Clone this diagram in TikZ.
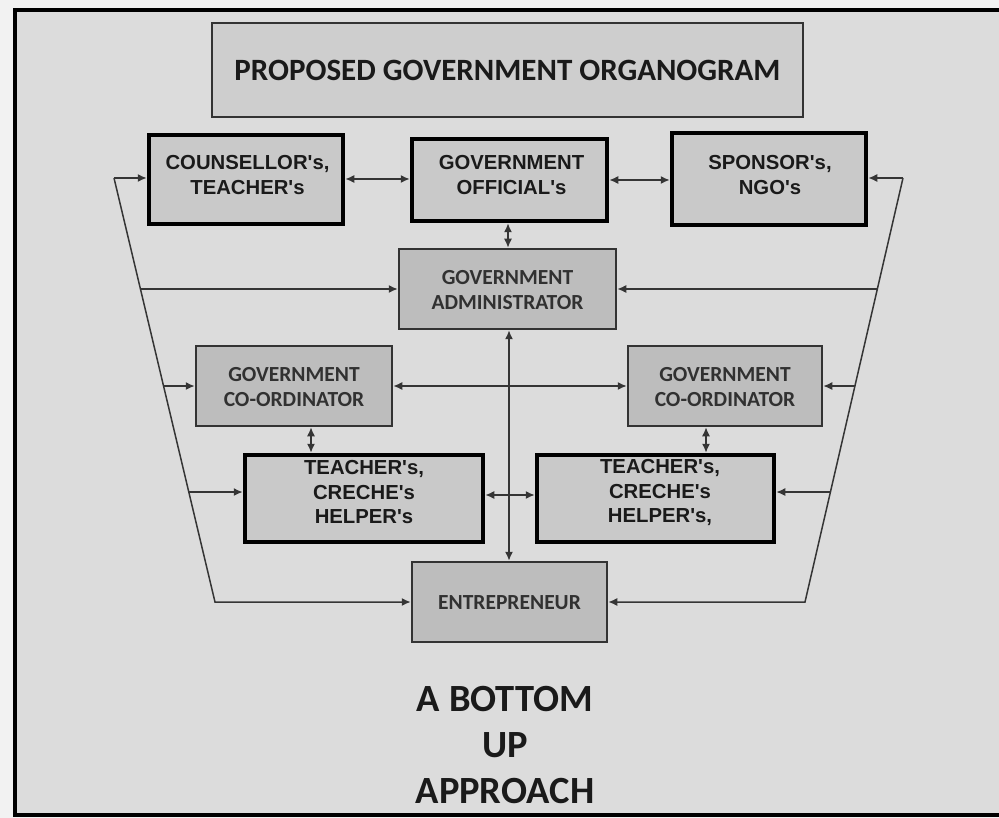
\documentclass[tikz,border=0pt]{standalone}
\usepackage{fontspec}
\newfontfamily\arialf{Liberation Sans}
\newfontfamily\calf{Carlito}
\usetikzlibrary{arrows.meta,calc}
\definecolor{outbg}{HTML}{F2F2F2}
\definecolor{bg}{HTML}{DCDCDC}
\definecolor{boxA}{HTML}{C9C9C9}
\definecolor{boxB}{HTML}{BDBDBD}
\definecolor{boxT}{HTML}{CECECE}
\definecolor{edge}{HTML}{333333}
\definecolor{lineclr}{HTML}{353535}
\definecolor{txt}{HTML}{1A1A1A}
\tikzset{
  thickbox/.style={draw=black, line width=4.5pt, fill=boxA, inner sep=0pt},
  thinbox/.style={draw=edge, line width=2.5pt, fill=boxB, inner sep=0pt},
  titlebox/.style={draw=edge, line width=2.5pt, fill=boxT, inner sep=0pt, text=txt,
    font=\calf\bfseries\fontsize{31}{36}\selectfont},
  arialtxt/.style={font=\arialf\bfseries\fontsize{20.3}{24.5}\selectfont, align=center, text=txt, inner sep=0pt},
  caltxt/.style={font=\calf\bfseries\fontsize{21.5}{24.5}\selectfont, align=center, text=txt!90!white, inner sep=0pt},
  bigtxt/.style={font=\calf\bfseries\fontsize{38.5}{46}\selectfont, align=center, text=txt, inner sep=0pt},
  link/.style={draw=lineclr, line width=1.5pt},
  both/.style={link, {Latex[length=9pt,width=8pt]}-{Latex[length=9pt,width=8pt]}},
  oneway/.style={link, -{Latex[length=9pt,width=8pt]}},
}
\begin{document}
\begin{tikzpicture}[x=1pt,y=-1pt]
\useasboundingbox (0,0) rectangle (999,818);
\fill[outbg] (0,0) rectangle (999,818);
\fill[bg] (15,10) rectangle (1020,815);
\draw[line width=4.5pt, line join=miter] (1020,10) -- (15,10) -- (15,815) -- (1020,815);

% title
\node[titlebox, minimum width=591pt, minimum height=94pt] (title) at (507.5,70) {PROPOSED GOVERNMENT ORGANOGRAM};

% top row
\node[thickbox, minimum width=194pt, minimum height=89pt] (couns) at (246,179.5) {};
\node[arialtxt] (counst) at (247.5,175) {COUNSELLOR's,\\TEACHER's};
\node[thickbox, minimum width=195pt, minimum height=82pt] (offic) at (509.5,180) {};
\node[arialtxt] (offict) at (511.5,175) {GOVERNMENT\\OFFICIAL's};
\node[thickbox, minimum width=194pt, minimum height=92pt] (spons) at (769,179) {};
\node[arialtxt] (sponst) at (770,175) {SPONSOR's,\\NGO's};

% administrator
\node[thinbox, minimum width=217pt, minimum height=80pt] (admin) at (507.5,289) {};
\node[caltxt] (admint) at (507.5,290) {GOVERNMENT\\ADMINISTRATOR};

% coordinators
\node[thinbox, minimum width=196pt, minimum height=80pt] (lcoord) at (294,386) {};
\node[caltxt] (lcoordt) at (294,387) {GOVERNMENT\\CO-ORDINATOR};
\node[thinbox, minimum width=194pt, minimum height=80pt] (rcoord) at (725,386) {};
\node[caltxt] (rcoordt) at (725,387) {GOVERNMENT\\CO-ORDINATOR};

% teachers
\node[thickbox, minimum width=238pt, minimum height=87pt] (lteach) at (364,498.5) {};
\node[arialtxt] (lteacht) at (364,492.5) {TEACHER's,\\CRECHE's\\HELPER's};
\node[thickbox, minimum width=237pt, minimum height=87pt] (rteach) at (655.5,498.5) {};
\node[arialtxt] (rteacht) at (660,492.5) {TEACHER's,\\CRECHE's\\HELPER's,};

% entrepreneur
\node[thinbox, minimum width=195pt, minimum height=80pt] (entre) at (509.5,602) {};
\node[caltxt] (entret) at (509.5,603) {ENTREPRENEUR};

% bottom text
\node[bigtxt] (bottom) at (505,745) {A BOTTOM\\UP\\APPROACH};

% internal connectors
\draw[both] ([yshift=0.5pt]couns.east) -- ([yshift=0.5pt]couns.east -| offic.west);
\draw[both] (offic.east) -- (offic.east -| spons.west);
\draw[both] ([xshift=-1.5pt]offic.south) -- ([xshift=-1.5pt]offic.south |- admin.north);
\draw[both] ([xshift=-0.5pt]entre.north |- admin.south) -- ([xshift=-0.5pt]entre.north);
\draw[both] (lcoord.east) -- (rcoord.west);
\draw[both] ([yshift=3.5pt]lteach.east) -- ([yshift=3.5pt]rteach.west);
\draw[both] ([xshift=17pt]lcoord.south) -- ([xshift=17pt]lcoord.south |- lteach.north);
\draw[both] ([xshift=-19pt]rcoord.south) -- ([xshift=-19pt]rcoord.south |- rteach.north);

% left side
\coordinate (L1) at (114,178);
\coordinate (L2) at (215,602);
\coordinate (La) at ($(L1)!0.2618!(L2)$);
\coordinate (Lb) at ($(L1)!0.4906!(L2)$);
\coordinate (Lc) at ($(L1)!0.7406!(L2)$);
\draw[oneway] (L1) -- (L1 -| couns.west);
\draw[oneway, line join=miter] (L1) -- (L2) -- (L2 -| entre.west);
\draw[oneway] (La) -- (La -| admin.west);
\draw[oneway] (Lb) -- (Lb -| lcoord.west);
\draw[oneway] (Lc) -- (Lc -| lteach.west);

% right side
\coordinate (R1) at (903,178);
\coordinate (R2) at (805,602);
\coordinate (Ra) at ($(R1)!0.2618!(R2)$);
\coordinate (Rb) at ($(R1)!0.4906!(R2)$);
\coordinate (Rc) at ($(R1)!0.7406!(R2)$);
\draw[oneway] (R1) -- (R1 -| spons.east);
\draw[oneway, line join=miter] (R1) -- (R2) -- (R2 -| entre.east);
\draw[oneway] (Ra) -- (Ra -| admin.east);
\draw[oneway] (Rb) -- (Rb -| rcoord.east);
\draw[oneway] (Rc) -- (Rc -| rteach.east);
\end{tikzpicture}
\end{document}
